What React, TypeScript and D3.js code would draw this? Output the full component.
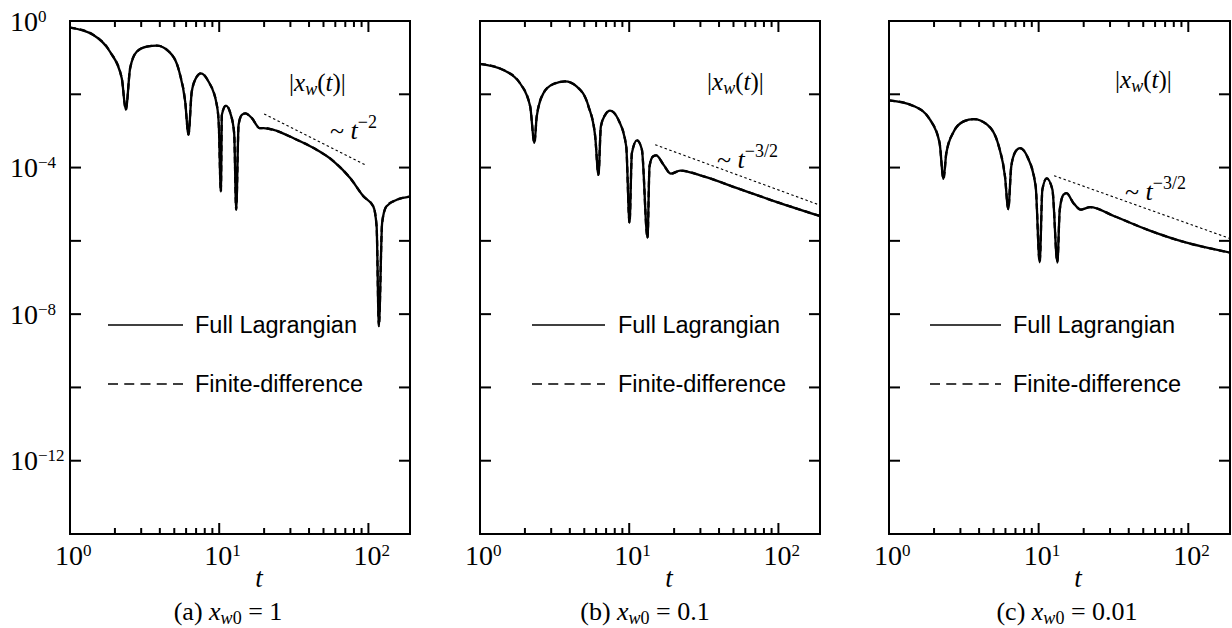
import React, { useEffect, useRef } from "react";
import * as d3 from "d3";

// panel (a) x_w0 = 1
const tA = [1.0, 1.435, 1.854, 2.223, 2.366, 2.529, 2.799, 3.266, 3.819, 4.613, 5.395, 5.916, 6.223, 6.546, 7.079, 7.534, 8.472, 9.638, 9.93, 10.26, 10.42, 11.09, 11.97, 12.6, 13.0, 13.49, 14.19, 14.93, 16.56, 18.62, 19.82, 23.17, 31.55, 42.95, 58.48, 75.68, 92.9, 107.9, 113.5, 117.5, 123.6, 131.8, 154.9, 190.5];
const yA = [0.66, 0.417, 0.145, 0.0275, 3.8e-3, 0.0513, 0.145, 0.2, 0.214, 0.145, 0.0417, 6.3e-3, 7.9e-4, 0.0117, 0.0302, 0.0372, 0.0224, 5.1e-3, 1.6e-3, 2.2e-5, 2.75e-3, 4.9e-3, 2.75e-3, 8.5e-4, 7.1e-6, 1.48e-3, 2.75e-3, 3.0e-3, 2.24e-3, 1.2e-3, 1.2e-3, 1.07e-3, 6.3e-4, 3.4e-4, 1.48e-4, 5.1e-5, 1.62e-5, 8.7e-6, 2.5e-6, 4.7e-9, 3.1e-6, 8.7e-6, 1.32e-5, 1.62e-5];

// panel (b) x_w0 = 0.1
const tB = [1.0, 1.435, 1.854, 2.168, 2.317, 2.399, 2.661, 3.105, 3.715, 4.457, 5.333, 5.916, 6.223, 6.457, 6.902, 7.447, 8.472, 9.55, 10.05, 10.42, 11.27, 12.16, 13.27, 13.68, 14.42, 15.17, 16.98, 19.05, 21.98, 31.55, 52.84, 88.3, 191.4];
const yB = [0.0676, 0.0457, 0.02, 4.7e-3, 4.7e-4, 2.45e-3, 0.0107, 0.019, 0.0224, 0.0162, 4.7e-3, 7.1e-4, 6.3e-5, 1.32e-3, 2.75e-3, 3.6e-3, 2.0e-3, 3.8e-4, 3.1e-6, 2.45e-4, 5.5e-4, 3.1e-4, 1.2e-6, 1.07e-4, 2.0e-4, 2.14e-4, 1.2e-4, 6.8e-5, 8.3e-5, 5.75e-5, 2.75e-5, 1.32e-5, 4.7e-6];

// panel (c) x_w0 = 0.01
const tC = [1.0, 1.459, 1.884, 2.178, 2.312, 2.415, 2.704, 3.155, 3.681, 4.529, 5.42, 5.957, 6.266, 6.561, 7.015, 7.499, 8.395, 9.55, 10.16, 10.59, 11.32, 12.36, 13.34, 13.84, 14.66, 15.35, 17.1, 19.14, 22.08, 32.06, 53.58, 89.74, 194.5];
const yC = [6.8e-3, 4.8e-3, 2.0e-3, 4.7e-4, 4.9e-5, 2.45e-4, 9.5e-4, 1.82e-3, 2.1e-3, 1.48e-3, 3.8e-4, 5.75e-5, 7.4e-6, 1.07e-4, 2.75e-4, 3.4e-4, 2.0e-4, 3.1e-5, 2.6e-7, 2.5e-5, 5.1e-5, 2.5e-5, 2.6e-7, 7.1e-6, 1.82e-5, 2.0e-5, 1.07e-5, 7.1e-6, 8.3e-6, 4.7e-6, 2.0e-6, 9.8e-7, 4.7e-7];

// power-law guide lines
const guideTA = [20.0, 94.8];
const guideYA = [2.9e-3, 1.2e-4];
const guideTB = [14.93, 191.4];
const guideYB = [4.2e-4, 9.3e-6];
const guideTC = [12.68, 194.5];
const guideYC = [6.0e-5, 1.12e-6];

const guideExps = ["−2", "−3/2", "−3/2"];
const captions = ["(a)", "(b)", "(c)"];
const captionValues = ["1", "0.1", "0.01"];
const legendLabels = ["Full Lagrangian", "Finite-difference"];

const xDomain = [1, 190];
const yDomain = [1e-14, 1];
const xMajor = [1, 10, 100];
const xMinor = [2, 3, 4, 5, 6, 7, 8, 9, 20, 30, 40, 50, 60, 70, 80, 90];
const yTickVals = [1, 1e-2, 1e-4, 1e-6, 1e-8, 1e-10, 1e-12, 1e-14];
const yLabelExps = [0, -4, -8, -12];
const xLabelExps = [0, 1, 2];

const panels = [
  { left: 70, right: 410, t: tA, y: yA, gt: guideTA, gy: guideYA,
    label: [289, 91], guide: [330, 139], legend: [108, 183, 195], caption: 228, yLabels: true },
  { left: 480, right: 820, t: tB, y: yB, gt: guideTB, gy: guideYB,
    label: [707, 90], guide: [717, 168], legend: [532, 605, 618], caption: 645, yLabels: false },
  { left: 889, right: 1230, t: tC, y: yC, gt: guideTC, gy: guideYC,
    label: [1115, 88], guide: [1125, 200], legend: [930, 1001, 1013], caption: 1067, yLabels: false },
];

const TOP = 21;
const BOTTOM = 534;
const SERIF = "'Liberation Serif', 'Times New Roman', serif";
const SANS = "'Liberation Sans', Arial, sans-serif";

function sup(sel, base, exp, size) {
  sel.append("tspan").text(base);
  sel.append("tspan").attr("dy", -9).attr("font-size", size).text(exp);
}

export default function App() {
  const ref = useRef(null);

  useEffect(() => {
    document.body.style.margin = "0";
    const svg = d3.select(ref.current);
    svg.selectAll("*").remove();

    panels.forEach((p, i) => {
      const x = d3.scaleLog().domain(xDomain).range([p.left, p.right]);
      const y = d3.scaleLog().domain(yDomain).range([BOTTOM, TOP]);
      const g = svg.append("g");

      const clipId = "clip" + i;
      g.append("clipPath").attr("id", clipId)
        .append("rect")
        .attr("x", p.left).attr("y", TOP)
        .attr("width", p.right - p.left).attr("height", BOTTOM - TOP);

      // ticks, inward on all four sides
      const ticks = g.append("g").attr("stroke", "#000").attr("stroke-width", 2);
      xMajor.concat(xMinor).forEach((v) => {
        const len = xMajor.includes(v) ? 11 : 6;
        ticks.append("line").attr("x1", x(v)).attr("x2", x(v)).attr("y1", BOTTOM).attr("y2", BOTTOM - len);
        ticks.append("line").attr("x1", x(v)).attr("x2", x(v)).attr("y1", TOP).attr("y2", TOP + len);
      });
      yTickVals.forEach((v) => {
        ticks.append("line").attr("x1", p.left).attr("x2", p.left + 11).attr("y1", y(v)).attr("y2", y(v));
        ticks.append("line").attr("x1", p.right).attr("x2", p.right - 11).attr("y1", y(v)).attr("y2", y(v));
      });

      // curves
      const pts = p.t.map((t, k) => [t, p.y[k]]);
      const line = d3.line().x((d) => x(d[0])).y((d) => y(d[1])).curve(d3.curveMonotoneX);
      const plot = g.append("g").attr("clip-path", `url(#${clipId})`);
      plot.append("path").attr("d", line(pts)).attr("fill", "none")
        .attr("stroke", "#000").attr("stroke-width", 2.3).attr("stroke-linejoin", "round");
      plot.append("path").attr("d", line(pts)).attr("fill", "none")
        .attr("stroke", "#000").attr("stroke-width", 2.3).attr("stroke-dasharray", "6,4");

      const gpts = p.gt.map((t, k) => [t, p.gy[k]]);
      plot.append("path").attr("d", d3.line().x((d) => x(d[0])).y((d) => y(d[1]))(gpts))
        .attr("fill", "none").attr("stroke", "#000").attr("stroke-width", 1.1)
        .attr("stroke-dasharray", "2.5,2.5");

      // frame
      g.append("rect").attr("x", p.left).attr("y", TOP)
        .attr("width", p.right - p.left).attr("height", BOTTOM - TOP)
        .attr("fill", "none").attr("stroke", "#000").attr("stroke-width", 2);

      // x tick labels
      xLabelExps.forEach((e) => {
        const tx = g.append("text").attr("x", x(Math.pow(10, e)) - 15).attr("y", 565)
          .attr("font-family", SERIF).attr("font-size", 28);
        sup(tx, "10", String(e), 17);
      });

      // y tick labels
      if (p.yLabels) {
        yLabelExps.forEach((e) => {
          const ty = g.append("text").attr("x", 10).attr("y", y(Math.pow(10, e)) + 9.5)
            .attr("font-family", SERIF).attr("font-size", 28);
          sup(ty, "10", e < 0 ? "−" + String(-e) : String(e), 17);
        });
      }

      // axis title
      g.append("text").attr("x", p.left + 189).attr("y", 587).attr("text-anchor", "middle")
        .attr("font-family", SERIF).attr("font-size", 27).attr("font-style", "italic").text("t");

      // |x_w(t)| label
      const lab = g.append("text").attr("x", p.label[0]).attr("y", p.label[1])
        .attr("font-family", SERIF).attr("font-size", 25);
      lab.append("tspan").text("|");
      lab.append("tspan").attr("font-style", "italic").text("x");
      lab.append("tspan").attr("font-style", "italic").attr("font-size", 18).attr("dy", 4).text("w");
      lab.append("tspan").attr("dy", -4).text("(");
      lab.append("tspan").attr("font-style", "italic").text("t");
      lab.append("tspan").text(")|");

      // power law label
      const gl = g.append("text").attr("x", p.guide[0]).attr("y", p.guide[1])
        .attr("font-family", SERIF).attr("font-size", 26);
      gl.append("tspan").text("~ ");
      gl.append("tspan").attr("font-style", "italic").text("t");
      gl.append("tspan").attr("dy", -11).attr("font-size", 18).text(guideExps[i]);

      // legend
      const [lx1, lx2, ltx] = p.legend;
      g.append("line").attr("x1", lx1).attr("x2", lx2).attr("y1", 325).attr("y2", 325)
        .attr("stroke", "#000").attr("stroke-width", 1.3);
      g.append("line").attr("x1", lx1).attr("x2", lx2).attr("y1", 384).attr("y2", 384)
        .attr("stroke", "#000").attr("stroke-width", 1.3).attr("stroke-dasharray", "10,6.25");
      legendLabels.forEach((s, k) => {
        g.append("text").attr("x", ltx).attr("y", 333 + k * 59)
          .attr("font-family", SANS).attr("font-size", 23.5).text(s);
      });

      // caption
      const cap = g.append("text").attr("x", p.caption).attr("y", 620).attr("text-anchor", "middle")
        .attr("font-family", SERIF).attr("font-size", 26);
      cap.append("tspan").text(captions[i] + " ");
      cap.append("tspan").attr("font-style", "italic").text("x");
      cap.append("tspan").attr("font-style", "italic").attr("font-size", 18).attr("dy", 4).text("w");
      cap.append("tspan").attr("font-size", 18).text("0");
      cap.append("tspan").attr("dy", -4).text(" = " + captionValues[i]);
    });
  }, []);

  return <svg ref={ref} width={1232} height={628} style={{ display: "block", background: "#fff" }} />;
}
